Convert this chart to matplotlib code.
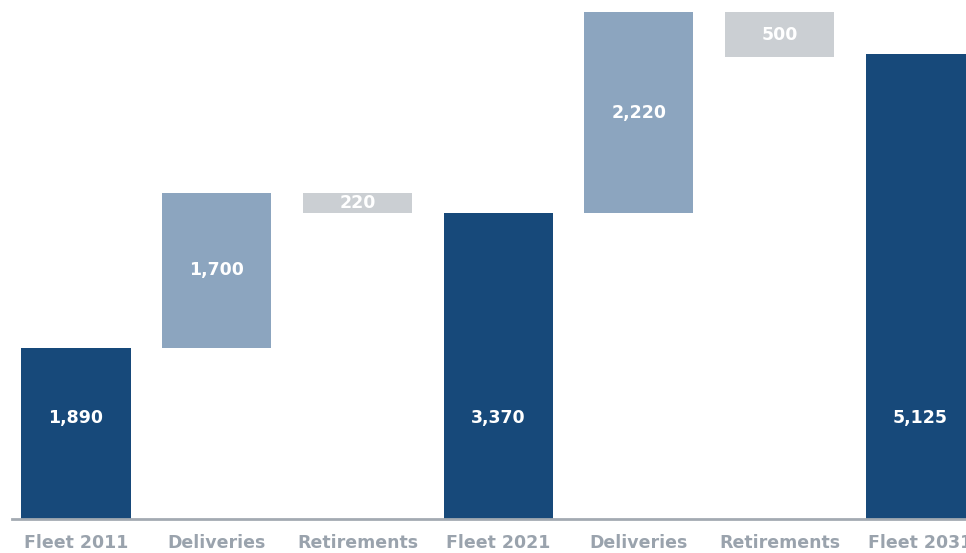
import matplotlib.pyplot as plt

categories = ['Fleet 2011', 'Deliveries', 'Retirements', 'Fleet 2021',
              'Deliveries', 'Retirements', 'Fleet 2031']
kinds = ['total', 'add', 'sub', 'total', 'add', 'sub', 'total']
values = [1890, 1700, 220, 3370, 2220, 500, 5125]
labels = ['1,890', '1,700', '220', '3,370', '2,220', '500', '5,125']

colors = {'total': '#17497A', 'add': '#8CA5BF', 'sub': '#CBCFD3'}

plt.rcParams['font.family'] = ['DejaVu Sans']

fig = plt.figure(figsize=(9.66, 5.53), dpi=100)
ax = fig.add_axes([12 / 966, 34 / 553, 954 / 966, 519 / 553])

running = 0
for i, (kind, v, lab) in enumerate(zip(kinds, values, labels)):
    if kind == 'total':
        bottom = 0
        running = v
    elif kind == 'add':
        bottom = running
        running += v
    else:
        bottom = running - v
    ax.bar(i, v, bottom=bottom, width=0.775, color=colors[kind], zorder=2)
    ty = 1110 if kind == 'total' else bottom + v / 2
    ax.text(i, ty, lab, ha='center', va='center', color='white',
            fontsize=12.5, fontweight='bold', zorder=3)

ax.set_xlim(-0.455, 6.325)
ax.set_ylim(0, 5722)
ax.set_xticks(range(len(categories)))
ax.set_xticklabels(categories, fontsize=12.5, fontweight='bold', color='#9AA3AD')
ax.tick_params(axis='x', length=0, pad=11)
ax.set_yticks([])
for s in ['top', 'right', 'left']:
    ax.spines[s].set_visible(False)
ax.spines['bottom'].set_color('#A3AAB2')
ax.spines['bottom'].set_linewidth(2)

fig.savefig('out.png', dpi=100)
